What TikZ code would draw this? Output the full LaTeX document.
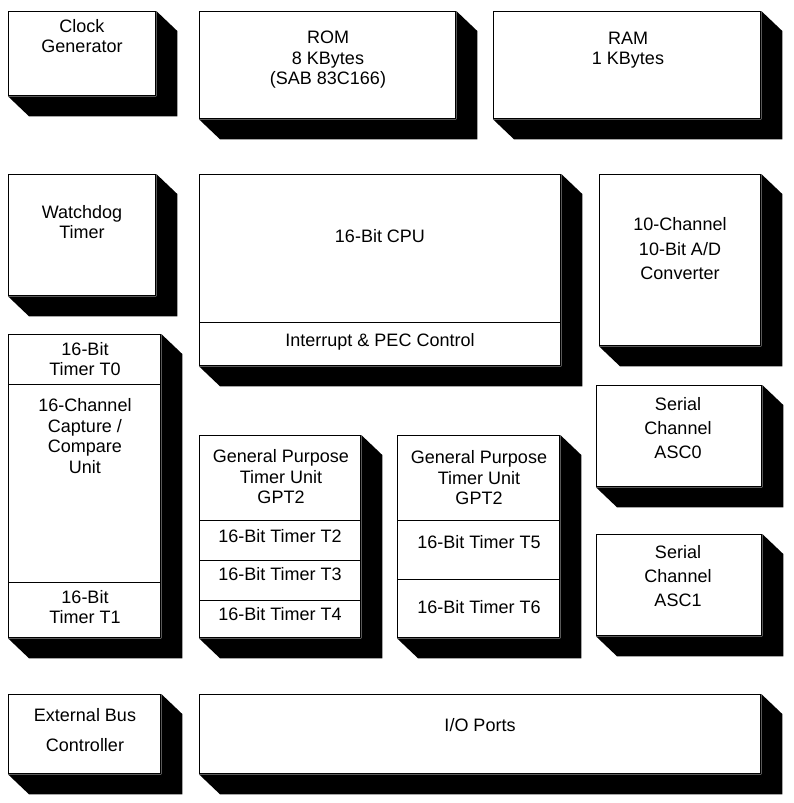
\documentclass[tikz,border=0pt]{standalone}
\usepackage{fontspec}
\setmainfont{Liberation Sans}
\usetikzlibrary{calc,positioning}
\tikzset{
  unit/.style={
    rectangle,
    draw=black, line width=1.3pt,
    fill=white,
    inner sep=0pt,
    anchor=north west},
  txt/.style={
    align=center,
    inner sep=0pt,
    font=\fontsize{18}{20.5}\selectfont},
  divider/.style={draw, line width=1pt},
  drop/.style={fill=black},
}
% extruded shadow below and right of a block
\newcommand{\dropshadow}[1]{%
  \path[drop] (#1.north east) -- ++(21,20) -- ($(#1.south east)+(21,20)$)
    -- ($(#1.south west)+(21,20)$) -- (#1.south west) -- (#1.south east) -- cycle;}

\begin{document}
\begin{tikzpicture}[x=1pt,y=-1pt]
  \useasboundingbox (0,0) rectangle (794,803);

  % blocks
  \node[unit, minimum width=147pt, minimum height=84pt]  (clk)  at (8,11) {};
  \node[unit, minimum width=256pt, minimum height=107pt] (rom)  at (199,11) {};
  \node[unit, minimum width=267pt, minimum height=107pt] (ram)  at (493,11) {};
  \node[unit, minimum width=147pt, minimum height=121pt] (wdt)  at (8,174) {};
  \node[unit, minimum width=361pt, minimum height=191pt] (cpu)  at (199,174) {};
  \node[unit, minimum width=161pt, minimum height=171pt] (adc)  at (599,174) {};
  \node[unit, minimum width=152pt, minimum height=303pt] (capcom) at (8,334) {};
  \node[unit, minimum width=161pt, minimum height=202pt] (gpta) at (199,435) {};
  \node[unit, minimum width=162pt, minimum height=202pt] (gptb) at (397,435) {};
  \node[unit, minimum width=165pt, minimum height=101pt] (asca) at (596,385) {};
  \node[unit, minimum width=165pt, minimum height=101pt] (ascb) at (596,534) {};
  \node[unit, minimum width=152pt, minimum height=79pt]  (ebc)  at (8,694) {};
  \node[unit, minimum width=561pt, minimum height=79pt]  (io)   at (199,694) {};

  \foreach \b in {clk,rom,ram,wdt,cpu,adc,capcom,gpta,gptb,asca,ascb,ebc,io}
    {\dropshadow{\b}}

  % inner dividers
  \draw[divider] (cpu.west |- 0,322) -- (cpu.east |- 0,322);
  \draw[divider] (capcom.west |- 0,384) -- (capcom.east |- 0,384);
  \draw[divider] (capcom.west |- 0,582) -- (capcom.east |- 0,582);
  \foreach \y in {520,560,600}
    \draw[divider] (gpta.west |- 0,\y) -- (gpta.east |- 0,\y);
  \foreach \y in {520,579}
    \draw[divider] (gptb.west |- 0,\y) -- (gptb.east |- 0,\y);

  % texts
  \node[txt] (clktxt) at (82,36)   {Clock\\Generator};
  \node[txt] (romtxt) at (328,60)  {ROM\\8 KBytes\\(SAB 83C166)};
  \node[txt] (ramtxt) at (628,50)  {RAM\\1 KBytes};
  \node[txt] (wdttxt) at (82,222)  {Watchdog\\Timer};
  \node[txt] (cputxt) at (380,236) {16-Bit CPU};
  \node[txt] (inttxt) at (380,342) {Interrupt \& PEC Control};
  \node[txt] (adctxt) at (680,249) {10-Channel\\[4pt]10-Bit A/D\\[4pt]Converter};
  \node[txt] (tzero)  at (85,359)  {16-Bit\\Timer T0};
  \node[txt] (cctxt)  at (85,436)  {16-Channel\\Capture /\\Compare\\Unit};
  \node[txt] (tone)   at (85,607)  {16-Bit\\Timer T1};
  \node[txt] (gpatxt) at (281,477) {General Purpose\\Timer Unit\\GPT2};
  \node[txt] (ttwo)   at (280,536) {16-Bit Timer T2};
  \node[txt] (tthree) at (280,574) {16-Bit Timer T3};
  \node[txt] (tfour)  at (280,614) {16-Bit Timer T4};
  \node[txt] (gpbtxt) at (479,478) {General Purpose\\Timer Unit\\GPT2};
  \node[txt] (tfive)  at (479,542) {16-Bit Timer T5};
  \node[txt] (tsix)   at (479,607) {16-Bit Timer T6};
  \node[txt] (asatxt) at (678,428) {Serial\\[3.5pt]Channel\\[3.5pt]ASC0};
  \node[txt] (asbtxt) at (678,576) {Serial\\[3.5pt]Channel\\[3.5pt]ASC1};
  \node[txt] (ebctxt) at (85,730)  {External Bus\\[9pt]Controller};
  \node[txt] (iotxt)  at (480,725) {I/O Ports};
\end{tikzpicture}
\end{document}
